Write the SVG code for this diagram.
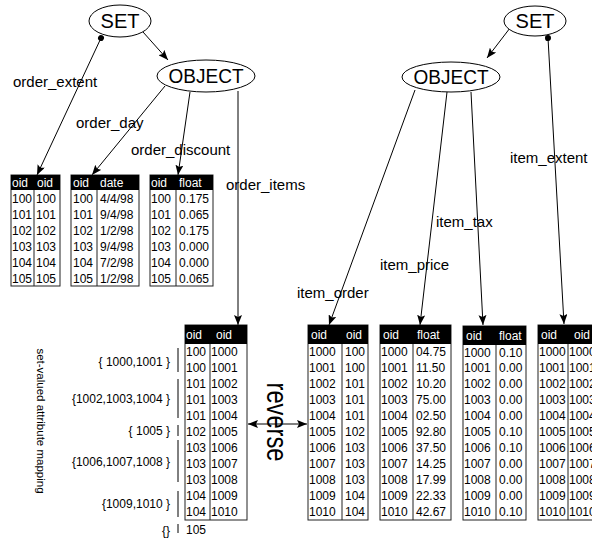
<svg xmlns="http://www.w3.org/2000/svg" width="592" height="539" viewBox="0 0 592 539">
<defs>
<marker id="arr" markerUnits="userSpaceOnUse" markerWidth="11" markerHeight="8" refX="10" refY="4" orient="auto-start-reverse">
<path d="M0,0 L10,4 L0,8 L2,4 z" fill="#000"/>
</marker>
<marker id="dot" markerUnits="userSpaceOnUse" markerWidth="8" markerHeight="8" refX="4" refY="4" orient="auto">
<circle cx="4" cy="4" r="3" fill="#000"/>
</marker>
</defs>
<style>
text{font-family:"Liberation Sans",Arial,sans-serif;fill:#000}
.node{fill:#fff;stroke:#000;stroke-width:1}
.nt{font-size:20px;text-anchor:middle}
.lbl{font-size:15px}
.hd{fill:#000}
.ht{fill:#fff;font-size:12px}
.bt{font-size:12px}
.tb{fill:#fff;stroke:#222;stroke-width:1}
.dv{stroke:#222;stroke-width:1}
.cn{fill:none;stroke:#000;stroke-width:1;marker-end:url(#arr)}
.br{stroke:#000;stroke-width:1}
.bl{font-size:12px;text-anchor:end}
</style>

<g id="connectors">
<line class="cn" x1="143" y1="32" x2="168" y2="60"/>
<line class="cn" x1="101" y1="38" x2="37" y2="175" style="marker-start:url(#dot)"/>
<line class="cn" x1="165" y1="86" x2="92" y2="175"/>
<line class="cn" x1="190" y1="92" x2="178" y2="175"/>
<line class="cn" x1="238" y1="91" x2="238" y2="325"/>
<line class="cn" x1="510" y1="28" x2="487" y2="58"/>
<line class="cn" x1="548" y1="38" x2="564" y2="324" style="marker-start:url(#dot)"/>
<line class="cn" x1="415" y1="90" x2="329" y2="325"/>
<line class="cn" x1="447" y1="92" x2="420" y2="325"/>
<line class="cn" x1="471" y1="92" x2="483" y2="325"/>
<line class="cn" x1="248" y1="424" x2="307" y2="424" style="marker-start:url(#arr)"/>
</g>

<g id="labels">
<text class="lbl" x="13" y="87">order_extent</text>
<text class="lbl" x="76" y="128">order_day</text>
<text class="lbl" x="131" y="155">order_discount</text>
<text class="lbl" x="226" y="190">order_items</text>
<text class="lbl" x="510" y="163">item_extent</text>
<text class="lbl" x="436" y="227">item_tax</text>
<text class="lbl" x="380" y="270">item_price</text>
<text class="lbl" x="297" y="298">item_order</text>
<text transform="translate(267,422) rotate(90)" font-size="30" text-anchor="middle" textLength="79" lengthAdjust="spacingAndGlyphs">reverse</text>
<text transform="translate(37,421) rotate(90)" font-size="11.5" text-anchor="middle">set-valued attribute mapping</text>
</g>

<g id="set-left">
<ellipse class="node" cx="120" cy="21" rx="31" ry="16"/>
<text class="nt" x="120" y="28">SET</text>
</g>
<g id="object-left">
<ellipse class="node" cx="206" cy="76" rx="49" ry="16"/>
<text class="nt" x="206" y="83" textLength="75" lengthAdjust="spacingAndGlyphs">OBJECT</text>
</g>
<g id="set-right">
<ellipse class="node" cx="535" cy="21" rx="31" ry="15"/>
<text class="nt" x="535" y="28">SET</text>
</g>
<g id="object-right">
<ellipse class="node" cx="451" cy="77" rx="49" ry="15"/>
<text class="nt" x="451" y="84" textLength="75" lengthAdjust="spacingAndGlyphs">OBJECT</text>
</g>

<g id="table-order-extent">
<rect class="tb" x="11" y="175" width="49" height="111"/>
<rect class="hd" x="11" y="175" width="49" height="15"/>
<line class="dv" x1="34" y1="190" x2="34" y2="286"/>
<text class="ht" x="12" y="187">oid</text><text class="ht" x="37" y="187">oid</text>
<text class="bt" x="12" y="203">100</text><text class="bt" x="36" y="203">100</text>
<text class="bt" x="12" y="219">101</text><text class="bt" x="36" y="219">101</text>
<text class="bt" x="12" y="235">102</text><text class="bt" x="36" y="235">102</text>
<text class="bt" x="12" y="251">103</text><text class="bt" x="36" y="251">103</text>
<text class="bt" x="12" y="267">104</text><text class="bt" x="36" y="267">104</text>
<text class="bt" x="12" y="283">105</text><text class="bt" x="36" y="283">105</text>
</g>

<g id="table-order-day">
<rect class="tb" x="71" y="175" width="68" height="111"/>
<rect class="hd" x="71" y="175" width="68" height="15"/>
<line class="dv" x1="97" y1="190" x2="97" y2="286"/>
<text class="ht" x="73" y="187">oid</text><text class="ht" x="100" y="187">date</text>
<text class="bt" x="73" y="203">100</text><text class="bt" x="100" y="203">4/4/98</text>
<text class="bt" x="73" y="219">101</text><text class="bt" x="100" y="219">9/4/98</text>
<text class="bt" x="73" y="235">102</text><text class="bt" x="100" y="235">1/2/98</text>
<text class="bt" x="73" y="251">103</text><text class="bt" x="100" y="251">9/4/98</text>
<text class="bt" x="73" y="267">104</text><text class="bt" x="100" y="267">7/2/98</text>
<text class="bt" x="73" y="283">105</text><text class="bt" x="100" y="283">1/2/98</text>
</g>

<g id="table-order-discount">
<rect class="tb" x="150" y="175" width="63" height="111"/>
<rect class="hd" x="150" y="175" width="63" height="15"/>
<line class="dv" x1="176" y1="190" x2="176" y2="286"/>
<text class="ht" x="151" y="187">oid</text><text class="ht" x="179" y="187">float</text>
<text class="bt" x="151" y="203">100</text><text class="bt" x="179" y="203">0.175</text>
<text class="bt" x="151" y="219">101</text><text class="bt" x="179" y="219">0.065</text>
<text class="bt" x="151" y="235">102</text><text class="bt" x="179" y="235">0.175</text>
<text class="bt" x="151" y="251">103</text><text class="bt" x="179" y="251">0.000</text>
<text class="bt" x="151" y="267">104</text><text class="bt" x="179" y="267">0.000</text>
<text class="bt" x="151" y="283">105</text><text class="bt" x="179" y="283">0.065</text>
</g>

<g id="table-order-items">
<rect class="tb" x="185" y="325" width="62" height="195"/>
<rect class="hd" x="185" y="325" width="62" height="19"/>
<line class="dv" x1="210" y1="344" x2="210" y2="520"/>
<text class="ht" x="186" y="339">oid</text><text class="ht" x="216" y="339">oid</text>
<text class="bt" x="186" y="356">100</text><text class="bt" x="211" y="356">1000</text>
<text class="bt" x="186" y="372">100</text><text class="bt" x="211" y="372">1001</text>
<text class="bt" x="186" y="388">101</text><text class="bt" x="211" y="388">1002</text>
<text class="bt" x="186" y="404">101</text><text class="bt" x="211" y="404">1003</text>
<text class="bt" x="186" y="420">101</text><text class="bt" x="211" y="420">1004</text>
<text class="bt" x="186" y="436">102</text><text class="bt" x="211" y="436">1005</text>
<text class="bt" x="186" y="452">103</text><text class="bt" x="211" y="452">1006</text>
<text class="bt" x="186" y="468">103</text><text class="bt" x="211" y="468">1007</text>
<text class="bt" x="186" y="484">103</text><text class="bt" x="211" y="484">1008</text>
<text class="bt" x="186" y="500">104</text><text class="bt" x="211" y="500">1009</text>
<text class="bt" x="186" y="516">104</text><text class="bt" x="211" y="516">1010</text>
<text class="bt" x="186" y="534">105</text>
</g>

<g id="set-mapping">
<line class="br" x1="178" y1="348" x2="178" y2="372"/>
<line class="br" x1="178" y1="379" x2="178" y2="418"/>
<line class="br" x1="178" y1="425" x2="178" y2="436"/>
<line class="br" x1="178" y1="440" x2="178" y2="482"/>
<line class="br" x1="178" y1="491" x2="178" y2="517"/>
<line class="br" x1="178" y1="524" x2="178" y2="533"/>
<text class="bl" x="170" y="366">{ 1000,1001 }</text>
<text class="bl" x="170" y="403">{1002,1003,1004 }</text>
<text class="bl" x="170" y="435">{ 1005 }</text>
<text class="bl" x="170" y="466">{1006,1007,1008 }</text>
<text class="bl" x="170" y="508">{1009,1010 }</text>
<text class="bl" x="170" y="535">{}</text>
</g>

<g id="table-item-order">
<rect class="tb" x="308" y="325" width="60" height="195"/>
<rect class="hd" x="308" y="325" width="60" height="19"/>
<line class="dv" x1="342" y1="344" x2="342" y2="520"/>
<text class="ht" x="311" y="339">oid</text><text class="ht" x="346" y="339">oid</text>
<text class="bt" x="309" y="356">1000</text><text class="bt" x="345" y="356">100</text>
<text class="bt" x="309" y="372">1001</text><text class="bt" x="345" y="372">100</text>
<text class="bt" x="309" y="388">1002</text><text class="bt" x="345" y="388">101</text>
<text class="bt" x="309" y="404">1003</text><text class="bt" x="345" y="404">101</text>
<text class="bt" x="309" y="420">1004</text><text class="bt" x="345" y="420">101</text>
<text class="bt" x="309" y="436">1005</text><text class="bt" x="345" y="436">102</text>
<text class="bt" x="309" y="452">1006</text><text class="bt" x="345" y="452">103</text>
<text class="bt" x="309" y="468">1007</text><text class="bt" x="345" y="468">103</text>
<text class="bt" x="309" y="484">1008</text><text class="bt" x="345" y="484">103</text>
<text class="bt" x="309" y="500">1009</text><text class="bt" x="345" y="500">104</text>
<text class="bt" x="309" y="516">1010</text><text class="bt" x="345" y="516">104</text>
</g>

<g id="table-item-price">
<rect class="tb" x="380" y="325" width="71" height="195"/>
<rect class="hd" x="380" y="325" width="71" height="19"/>
<line class="dv" x1="413" y1="344" x2="413" y2="520"/>
<text class="ht" x="383" y="339">oid</text><text class="ht" x="417" y="339">float</text>
<text class="bt" x="381" y="356">1000</text><text class="bt" x="416" y="356">04.75</text>
<text class="bt" x="381" y="372">1001</text><text class="bt" x="416" y="372">11.50</text>
<text class="bt" x="381" y="388">1002</text><text class="bt" x="416" y="388">10.20</text>
<text class="bt" x="381" y="404">1003</text><text class="bt" x="416" y="404">75.00</text>
<text class="bt" x="381" y="420">1004</text><text class="bt" x="416" y="420">02.50</text>
<text class="bt" x="381" y="436">1005</text><text class="bt" x="416" y="436">92.80</text>
<text class="bt" x="381" y="452">1006</text><text class="bt" x="416" y="452">37.50</text>
<text class="bt" x="381" y="468">1007</text><text class="bt" x="416" y="468">14.25</text>
<text class="bt" x="381" y="484">1008</text><text class="bt" x="416" y="484">17.99</text>
<text class="bt" x="381" y="500">1009</text><text class="bt" x="416" y="500">22.33</text>
<text class="bt" x="381" y="516">1010</text><text class="bt" x="416" y="516">42.67</text>
</g>

<g id="table-item-tax">
<rect class="tb" x="463" y="326" width="63" height="194"/>
<rect class="hd" x="463" y="326" width="63" height="19"/>
<line class="dv" x1="496" y1="345" x2="496" y2="520"/>
<text class="ht" x="466" y="340">oid</text><text class="ht" x="499" y="340">float</text>
<text class="bt" x="464" y="357">1000</text><text class="bt" x="499" y="357">0.10</text>
<text class="bt" x="464" y="372">1001</text><text class="bt" x="499" y="372">0.00</text>
<text class="bt" x="464" y="388">1002</text><text class="bt" x="499" y="388">0.00</text>
<text class="bt" x="464" y="404">1003</text><text class="bt" x="499" y="404">0.00</text>
<text class="bt" x="464" y="420">1004</text><text class="bt" x="499" y="420">0.00</text>
<text class="bt" x="464" y="436">1005</text><text class="bt" x="499" y="436">0.10</text>
<text class="bt" x="464" y="452">1006</text><text class="bt" x="499" y="452">0.10</text>
<text class="bt" x="464" y="468">1007</text><text class="bt" x="499" y="468">0.00</text>
<text class="bt" x="464" y="484">1008</text><text class="bt" x="499" y="484">0.00</text>
<text class="bt" x="464" y="500">1009</text><text class="bt" x="499" y="500">0.00</text>
<text class="bt" x="464" y="516">1010</text><text class="bt" x="499" y="516">0.10</text>
</g>

<g id="table-item-extent">
<rect class="tb" x="538" y="325" width="62" height="195"/>
<rect class="hd" x="538" y="325" width="62" height="19"/>
<line class="dv" x1="568" y1="344" x2="568" y2="520"/>
<text class="ht" x="541" y="339">oid</text><text class="ht" x="574" y="339">oid</text>
<text class="bt" x="539" y="356">1000</text><text class="bt" x="569" y="356">1000</text>
<text class="bt" x="539" y="372">1001</text><text class="bt" x="569" y="372">1001</text>
<text class="bt" x="539" y="388">1002</text><text class="bt" x="569" y="388">1002</text>
<text class="bt" x="539" y="404">1003</text><text class="bt" x="569" y="404">1003</text>
<text class="bt" x="539" y="420">1004</text><text class="bt" x="569" y="420">1004</text>
<text class="bt" x="539" y="436">1005</text><text class="bt" x="569" y="436">1005</text>
<text class="bt" x="539" y="452">1006</text><text class="bt" x="569" y="452">1006</text>
<text class="bt" x="539" y="468">1007</text><text class="bt" x="569" y="468">1007</text>
<text class="bt" x="539" y="484">1008</text><text class="bt" x="569" y="484">1008</text>
<text class="bt" x="539" y="500">1009</text><text class="bt" x="569" y="500">1009</text>
<text class="bt" x="539" y="516">1010</text><text class="bt" x="569" y="516">1010</text>
</g>
</svg>
